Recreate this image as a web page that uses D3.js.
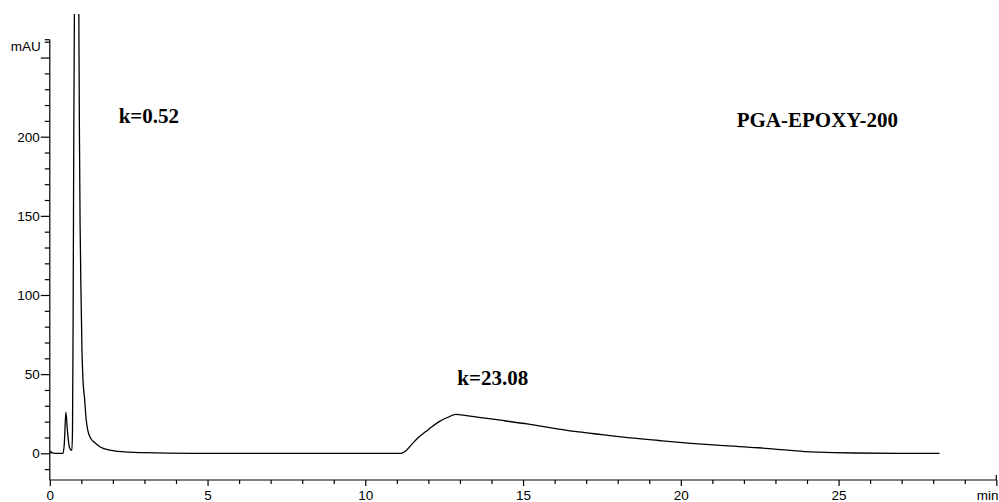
<!DOCTYPE html>
<html>
<head>
<meta charset="utf-8">
<script src="https://cdn.jsdelivr.net/npm/d3@7"></script>
<style>
  html, body { margin: 0; padding: 0; background: #fff; }
  svg { display: block; }
</style>
</head>
<body>
<svg id="chart" width="999" height="502"></svg>
<script>
// ---- Data ----
const timeMin = [
  0, 0.03, 0.06, 0.1, 0.2, 0.3, 0.42, 0.46, 0.51, 0.56, 0.62, 0.68, 0.70,
  0.72, 0.74, 0.76, 0.78, 0.82, 0.85, 0.88, 0.92, 0.94, 0.96, 0.99, 1.02,
  1.05, 1.10, 1.15, 1.20, 1.28, 1.44, 1.60, 1.90, 2.50, 3.00, 3.75, 4.5,
  6, 8, 10, 11.13, 11.3, 11.5, 11.7, 11.92, 12.1, 12.34, 12.6, 12.87,
  13.2, 13.6, 14.4, 15.18, 16.13, 16.76, 17.5, 18.24, 19.3, 20.33, 21.4,
  22.45, 22.9, 23.92, 24.87, 25.5, 26.87, 28.2
];
const absorbance = [
  0, 1.2, 0.3, 0.2, 0, 0, 0, 6, 26, 14, 4, 2, 2,
  15, 90, 200, 280, 390, 430, 390, 277, 200, 145, 100, 65,
  47, 35, 22, 15, 10, 6.5, 4, 2, 0.7, 0.4, 0.1, 0,
  0, 0, 0, 0, 1.8, 6.3, 10.3, 13.7, 16.6, 20, 22.6, 24.6,
  23.8, 22.7, 20.6, 18.4, 15.3, 13.5, 11.8, 10.1, 8.1, 6.3, 4.8,
  3.5, 2.8, 1.1, 0.4, 0.2, 0, 0
];
const xMajorTicks = [0, 5, 10, 15, 20, 25, 30];
const xTickLabels = ["0", "5", "10", "15", "20", "25", "min"];
const yMajorTicks = [0, 50, 100, 150, 200, 250];
const yTickLabels = ["0", "50", "100", "150", "200", ""];
const annotations = [
  { text: "k=0.52", t: 3.14, v: 208.6 },
  { text: "k=23.08", t: 14.04, v: 43.2 },
  { text: "PGA-EPOXY-200", t: 24.33, v: 206 }
];

// ---- Scales ----
const svg = d3.select("#chart");
const x = d3.scaleLinear().domain([0, 30]).range([49.8, 996.3]);
const y = d3.scaleLinear().domain([0, 200]).range([453.3, 136.7]);
const yBottom = 480;
const yTop = 14;
const tickFont = "'Liberation Sans', Arial, sans-serif";

// clip
svg.append("defs").append("clipPath").attr("id", "plotclip")
  .append("rect").attr("x", x(0)).attr("y", yTop)
  .attr("width", 999 - x(0)).attr("height", yBottom - yTop);

// ---- Y axis ----
const yMinor = d3.range(-10, 261, 10).filter(v => v % 50 !== 0);
svg.append("g").attr("transform", `translate(${x(0)},0)`)
  .call(d3.axisLeft(y).tickValues(yMinor).tickSize(5).tickFormat(""))
  .call(g => g.select(".domain").remove());
svg.append("g").attr("transform", `translate(${x(0)},0)`)
  .call(d3.axisLeft(y).tickValues(yMajorTicks).tickSize(9).tickPadding(1)
    .tickFormat((d, i) => yTickLabels[i]))
  .call(g => g.select(".domain").remove());
svg.append("line")
  .attr("x1", x(0)).attr("x2", x(0))
  .attr("y1", y(260) - 2).attr("y2", yBottom)
  .attr("stroke", "#000").attr("stroke-width", 1.2);
svg.append("line")
  .attr("x1", x(0) - 5).attr("x2", x(0))
  .attr("y1", y(260) - 2).attr("y2", y(260) - 2)
  .attr("stroke", "#000").attr("stroke-width", 1.2);
svg.append("text").attr("x", x(0) - 9).attr("y", 51)
  .attr("text-anchor", "end")
  .attr("font-family", tickFont)
  .attr("font-size", 13.5).text("mAU");

// ---- X axis ----
const xMinor = d3.range(1, 30, 1).filter(v => v % 5 !== 0);
svg.append("g").attr("transform", `translate(0,${yBottom})`)
  .call(d3.axisBottom(x).tickValues(xMinor).tickSize(4).tickFormat(""))
  .call(g => g.select(".domain").remove());
svg.append("g").attr("transform", `translate(0,${yBottom})`)
  .call(d3.axisBottom(x).tickValues(xMajorTicks).tickSize(6).tickPadding(4)
    .tickFormat((d, i) => xTickLabels[i]))
  .call(g => g.select(".domain").remove());
svg.append("line")
  .attr("x1", x(0)).attr("x2", x(30))
  .attr("y1", yBottom).attr("y2", yBottom)
  .attr("stroke", "#000").attr("stroke-width", 1.2);
svg.append("line")
  .attr("x1", x(30)).attr("x2", x(30))
  .attr("y1", yBottom - 5).attr("y2", yBottom)
  .attr("stroke", "#000").attr("stroke-width", 1.2);

svg.selectAll(".tick line").attr("stroke", "#000").attr("stroke-width", 1.2);
svg.selectAll(".tick text")
  .attr("font-family", tickFont)
  .attr("font-size", 13.5).attr("fill", "#000");
// keep "min" label inside the picture
svg.selectAll(".tick text").filter(function() { return this.textContent === "min"; })
  .attr("text-anchor", "end").attr("x", 998 - x(30));

// ---- Trace ----
const data = timeMin.map((t, i) => ({ t, v: absorbance[i] }));
const line = d3.line().x(d => x(d.t)).y(d => y(d.v)).curve(d3.curveMonotoneX);
svg.append("path").datum(data)
  .attr("clip-path", "url(#plotclip)")
  .attr("d", line)
  .attr("fill", "none").attr("stroke", "#000").attr("stroke-width", 1.3)
  .attr("stroke-linejoin", "round");

// ---- Annotations ----
svg.selectAll(".ann").data(annotations).enter().append("text")
  .attr("class", "ann")
  .attr("x", d => x(d.t)).attr("y", d => y(d.v))
  .attr("text-anchor", "middle")
  .attr("font-family", "'Liberation Serif', 'Times New Roman', serif")
  .attr("font-weight", "bold").attr("font-size", 21)
  .text(d => d.text);
</script>
</body>
</html>
